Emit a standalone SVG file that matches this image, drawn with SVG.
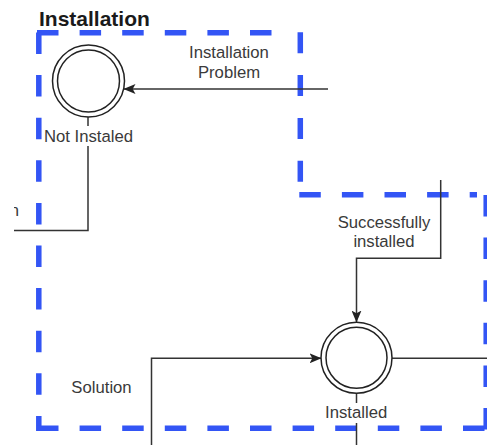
<svg xmlns="http://www.w3.org/2000/svg" width="487" height="445" viewBox="0 0 487 445">
  <style>
    .zone { fill: none; stroke: #3355F5; stroke-width: 5.5; stroke-dasharray: 21.5 21.1; }
    .edge { fill: none; stroke: #333333; stroke-width: 1.5; }
    .ring { fill: #ffffff; stroke: #222222; stroke-width: 1.5; }
    .lbl { font-family: "Liberation Sans", Arial, sans-serif; font-size: 16.7px; fill: #3a3a3a; text-anchor: middle; }
    .title { font-family: "Liberation Sans", Arial, sans-serif; font-size: 21px; font-weight: bold; fill: #1a1a1a; }
    .bg { fill: #ffffff; }
  </style>
  <defs>
    <marker id="arrow" viewBox="0 0 12 10" refX="11.5" refY="5" markerWidth="12" markerHeight="10" markerUnits="userSpaceOnUse" orient="auto">
      <path d="M0,0 L12,5 L0,10 L2.8,5 Z" fill="#222222"/>
    </marker>
    <clipPath id="frame">
      <rect x="14" y="0" width="473" height="445"/>
    </clipPath>
  </defs>

  <rect width="487" height="445" fill="#ffffff"/>

  <!-- dashed boundary of the Installation region -->
  <g id="installation-zone">
    <line class="zone" x1="36" y1="32.8" x2="272" y2="32.8" stroke-dashoffset="-1"/>
    <line class="zone" x1="38.8" y1="30" x2="38.8" y2="431" stroke-dashoffset="-2.5"/>
    <line class="zone" x1="36" y1="428.3" x2="487" y2="428.3" stroke-dashoffset="-1"/>
    <line class="zone" x1="300.3" y1="32.3" x2="300.3" y2="182" style="stroke-dasharray: 21 21.8"/>
    <line class="zone" x1="299.3" y1="194.8" x2="477" y2="194.8"/>
    <line class="zone" x1="486.2" y1="195" x2="486.2" y2="431"/>
    <text class="title" x="39" y="26">Installation</text>
  </g>

  <!-- transitions -->
  <g id="connectors" clip-path="url(#frame)">
    <!-- Installation Problem -->
    <path class="edge" d="M328,89 L124,89" marker-end="url(#arrow)"/>
    <text class="lbl" x="229" y="58">Installation</text>
    <text class="lbl" x="229" y="78">Problem</text>

    <!-- from Not Instaled, leaving to the left -->
    <path class="edge" d="M88,117 L88,230.5 L10,230.5"/>
    <text class="lbl" x="19" y="215.5" style="text-anchor: end">n</text>

    <!-- Successfully installed -->
    <path class="edge" d="M440.7,180 L440.7,258.3 L356.5,258.3 L356.5,322" marker-end="url(#arrow)"/>
    <text class="lbl" x="384" y="227.5">Successfully</text>
    <text class="lbl" x="384" y="247">installed</text>

    <!-- Solution -->
    <path class="edge" d="M151.5,445 L151.5,358.3 L321,358.3" marker-end="url(#arrow)"/>
    <text class="lbl" x="101.5" y="393">Solution</text>

    <!-- outgoing from Installed -->
    <path class="edge" d="M392,358.3 L487,358.3"/>
    <path class="edge" d="M356.5,393 L356.5,445"/>
  </g>

  <!-- states -->
  <g id="not-instaled">
    <circle class="ring" cx="88.5" cy="81" r="36"/>
    <circle class="ring" cx="88.5" cy="81" r="31"/>
    <rect class="bg" x="43" y="126" width="91" height="20"/>
    <text class="lbl" x="88.5" y="142">Not Instaled</text>
  </g>

  <g id="installed">
    <circle class="ring" cx="356.5" cy="357.8" r="35.5"/>
    <circle class="ring" cx="356.5" cy="357.8" r="30.5"/>
    <rect class="bg" x="324" y="403" width="65" height="20"/>
    <text class="lbl" x="356.2" y="418">Installed</text>
  </g>
</svg>
